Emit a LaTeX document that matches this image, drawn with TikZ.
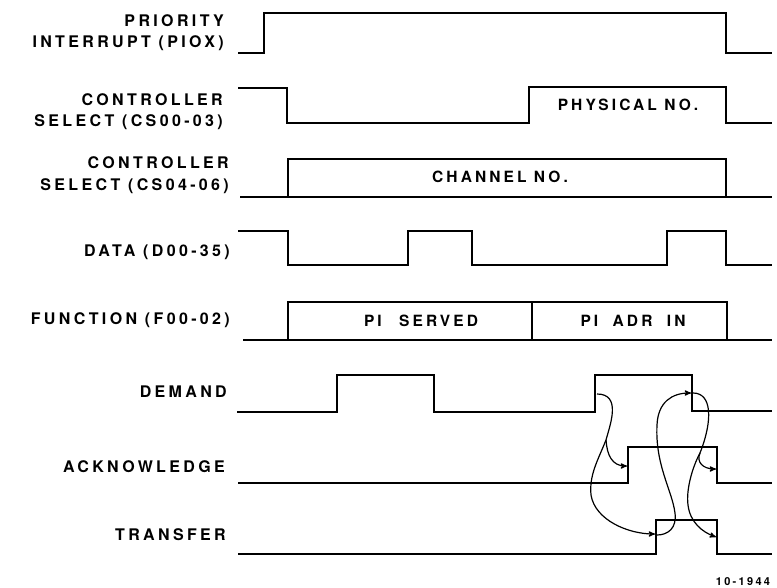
\documentclass[tikz,border=0pt]{standalone}
\usepackage{fontspec}
\newfontfamily\lettering[LetterSpace=21]{TeX Gyre Heros Bold}
\newfontfamily\boxlettering[LetterSpace=20]{TeX Gyre Heros Bold}
\usetikzlibrary{arrows}
\tikzset{
    %Define standard arrow tip
    >=stealth',
    % Define style for signal names
    signame/.style={
           anchor=east,
           align=right,
           inner sep=0pt,
           font=\lettering\fontsize{16}{21.5}\selectfont},
    % Define style for texts inside a bus box
    boxtext/.style={
           inner sep=0pt,
           font=\boxlettering\fontsize{15.5}{18}\selectfont},
    % Define wave style
    wave/.style={
           line width=2.4pt,
           line join=miter},
    % Define handshake arrow style
    hand/.style={
           ->,
           line width=1.2pt}
}

\begin{document}
\begin{tikzpicture}[x=1pt,y=-1pt]
	\useasboundingbox (0,0) rectangle (777,588);

	% priority interrupt
	\node[signame](pi-name) at (224,32.5){PRIORITY\\INTERRUPT (PIOX)};
	\draw[wave] (238,53) -- (264,53) -- (264,13) -- (726,13) -- (726,53) -- (772,53);

	% controller select 00-03
	\node[signame](csa-name) at (223,111.5){CONTROLLER\\SELECT (CS00-03)};
	\draw[wave] (238,88) -- (287,88) -- (287,123) -- (529,123) -- (529,87)
	            -- (726,87) -- (726,123) -- (772,123);
	\node[boxtext](csa-text) at (628,105){PHYSICAL NO.};

	% controller select 04-06
	\node[signame](csb-name) at (229,175){CONTROLLER\\SELECT (CS04-06)};
	\draw[wave] (240,197) -- (772,197);
	\draw[wave] (288,197) -- (288,159) -- (726,159) -- (726,197);
	\node[boxtext](csb-text) at (500,177){CHANNEL NO.};

	% data
	\node[signame](data-name) at (230,252){DATA (D00-35)};
	\draw[wave] (238,231) -- (288,231) -- (288,265) -- (408,265) -- (408,231)
	            -- (472,231) -- (472,265) -- (667,265) -- (667,231) -- (726,231)
	            -- (726,265) -- (772,265);

	% function
	\node[signame](fn-name) at (230,320){FUNCTION (F00-02)};
	\draw[wave] (243,340) -- (772,340);
	\draw[wave] (288,340) -- (288,302) -- (727,302) -- (727,340);
	\draw[line width=1.4pt] (532,302) -- (532,340);
	\node[boxtext](fn-served) at (421,321){PI\hspace{10pt} SERVED};
	\node[boxtext](fn-adr) at (633,321){PI\hspace{7pt} ADR\hspace{7pt} IN};

	% demand
	\node[signame](dem-name) at (227,392){DEMAND};
	\draw[wave] (237,412) -- (337,412) -- (337,375) -- (434,375) -- (434,412)
	            -- (595,412) -- (595,375) -- (692,375) -- (692,411) -- (772,411);

	% acknowledge
	\node[signame](ack-name) at (225,467){ACKNOWLEDGE};
	\draw[wave] (238,483) -- (628,483) -- (628,447) -- (717,447) -- (717,483) -- (772,483);

	% transfer
	\node[signame](xfr-name) at (226,535){TRANSFER};
	\draw[wave] (238,554) -- (656,554) -- (656,520) -- (717,520) -- (717,554) -- (772,554);

	% handshake points
	\coordinate (dem-up) at (597,394);
	\coordinate (dem-split) at (606,440);
	\coordinate (ack-up) at (627,466);
	\coordinate (xfr-up) at (655,534);
	\coordinate (xfr-start) at (657,535);
	\coordinate (dem-down) at (691,393);
	\coordinate (dem-start) at (693,393);
	\coordinate (ack-split) at (700,453);
	\coordinate (ack-down) at (716,469);
	\coordinate (xfr-down) at (716,537);

	% handshake arrows
	\draw[line width=1.2pt] (dem-up) .. controls (622,394) and (610,425) .. (dem-split);
	\draw[hand] (dem-split) .. controls (607,455) and (612,466) .. (ack-up);
	\draw[hand] (dem-split) .. controls (598,460) and (589,475) .. (591,495)
	            .. controls (595,520) and (628,534) .. (xfr-up);
	\draw[hand] (xfr-start) .. controls (668,535) and (677,528) .. (675,513)
	            .. controls (672,490) and (655,465) .. (657,425)
	            .. controls (658,402) and (672,393) .. (dem-down);
	\draw[line width=1.2pt] (dem-start) .. controls (712,393) and (713,420) .. (ack-split);
	\draw[hand] (ack-split) .. controls (696,462) and (703,469) .. (ack-down);
	\draw[hand] (ack-split) .. controls (692,468) and (686,490) .. (688,505)
	            .. controls (690,522) and (702,532) .. (xfr-down);

	% drawing number
	\node[font=\lettering\fontsize{11}{13}\selectfont](fig-no) at (743,582){10-1944};

\end{tikzpicture}
\end{document}
